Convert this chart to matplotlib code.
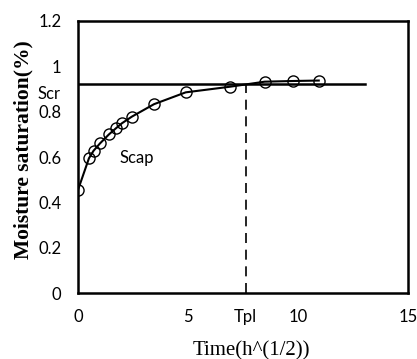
import numpy as np
import matplotlib.pyplot as plt

# measured points: time (sqrt h) vs moisture saturation
time_sqrt = [0, 0.5, 0.71, 1.0, 1.41, 1.73, 2.0, 2.45, 3.46, 4.9, 6.93, 8.49, 9.8, 10.95]
saturation = [0.455, 0.595, 0.628, 0.66, 0.70, 0.727, 0.749, 0.778, 0.833, 0.885, 0.910, 0.932, 0.935, 0.937]

scr = 0.922      # critical saturation level
tpl = 7.62       # time of plateau
line_end = 13.05

y_ticks = [0, 0.2, 0.4, 0.6, 0.8, 1.0, 1.2]
y_labels = ["0", "0.2", "0.4", "0.6", "0.8", "1", "1.2"]
x_ticks = [0, 5, tpl, 10, 15]
x_labels = ["0", "5", "Tpl", "10", "15"]

tick_font = "Lato"
serif = "Liberation Serif"

fig = plt.figure(figsize=(4.17, 3.59), dpi=100)
ax = fig.add_axes([0.187, 0.183, 0.791, 0.759])

ax.plot(time_sqrt, saturation, color="black", lw=1.5, marker="o", ms=8,
        mfc="none", mec="black", mew=1.0, zorder=3)
ax.plot([0, line_end], [scr, scr], color="black", lw=1.8)
ax.plot([tpl, tpl], [0, scr], color="black", lw=1.2, ls=(0, (6, 4)))

ax.set_xlim(0, 15)
ax.set_ylim(0, 1.2)
ax.set_xticks(x_ticks)
ax.set_xticklabels(x_labels, fontfamily=tick_font, fontsize=12)
ax.set_yticks(y_ticks)
ax.set_yticklabels(y_labels, fontfamily=tick_font, fontsize=12)
ax.tick_params(length=0)
ax.tick_params(axis="x", pad=11)
ax.tick_params(axis="y", pad=12)

for s in ax.spines.values():
    s.set_linewidth(1.8)

ax.text(-0.052, 0.877 / 1.2, "Scr", transform=ax.transAxes, ha="right", va="center",
        fontfamily=tick_font, fontsize=12)
ax.text(1.9, 0.595, "Scap", ha="left", va="center", fontfamily=tick_font, fontsize=12)

ax.set_ylabel("Moisture saturation(%)", fontfamily=serif, fontweight="bold", fontsize=15.5)
ax.set_xlabel("Time(h^(1/2))", fontfamily=serif, fontsize=15)
ax.yaxis.set_label_coords(-0.136, 0.526)
ax.xaxis.set_label_coords(0.525, -0.175)

fig.savefig("out.png", dpi=100)
